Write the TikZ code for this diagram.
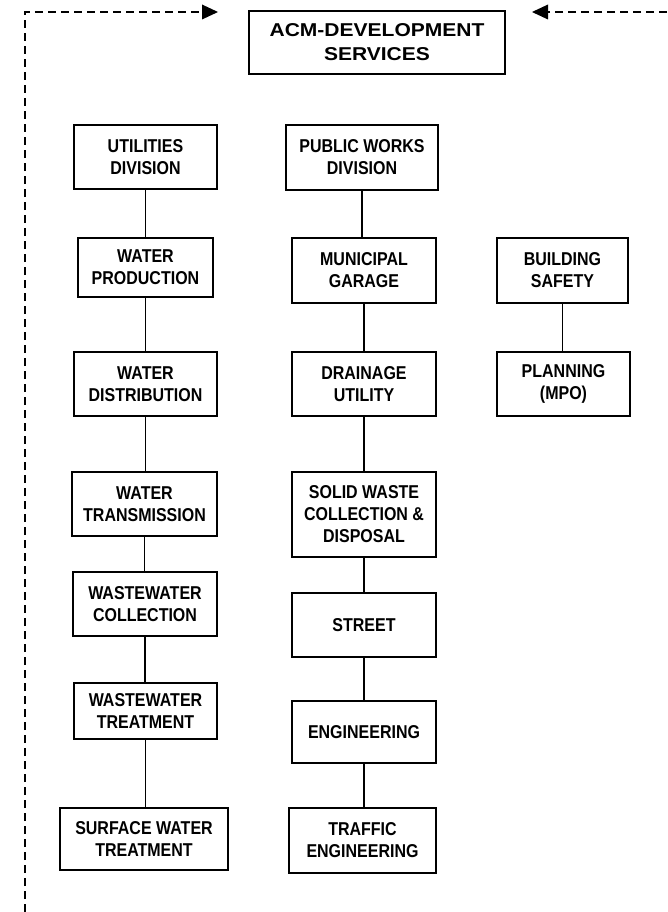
\documentclass[tikz,border=0pt]{standalone}
\usepackage{fontspec}
\setmainfont{Liberation Sans}
\newfontfamily\boxfont{Liberation Sans}[FakeStretch=0.86]
\newfontfamily\headfont{Liberation Sans}[FakeStretch=1.13]
\usetikzlibrary{arrows.meta}
\tikzset{
  orgbox/.style={draw, line width=1.6pt, inner sep=0pt, align=center,
    font=\boxfont\bfseries\fontsize{18.6}{22}\selectfont},
  link/.style={line width=1.3pt},
  feed/.style={line width=2pt, dash pattern=on 8pt off 5pt}
}
\begin{document}
\begin{tikzpicture}[x=1pt,y=-1pt]
\useasboundingbox (0,0) rectangle (667,912);
\node[orgbox, minimum width=256pt, minimum height=63pt,
  font=\headfont\bfseries\fontsize{18.6}{24}\selectfont] (acm) at (377,42.5) {ACM-DEVELOPMENT\\SERVICES};
\node[orgbox, minimum width=143pt, minimum height=64pt] (ud) at (145.5,157) {UTILITIES\\DIVISION};
\node[orgbox, minimum width=135pt, minimum height=59pt] (wp) at (145.5,267.5) {WATER\\PRODUCTION};
\node[orgbox, minimum width=143pt, minimum height=64pt] (wd) at (145.5,384) {WATER\\DISTRIBUTION};
\node[orgbox, minimum width=145pt, minimum height=64pt] (wt) at (144.5,504) {WATER\\TRANSMISSION};
\node[orgbox, minimum width=144pt, minimum height=64pt] (wc) at (145,604) {WASTEWATER\\COLLECTION};
\node[orgbox, minimum width=143pt, minimum height=56pt] (wwt) at (145.5,711) {WASTEWATER\\TREATMENT};
\node[orgbox, minimum width=168pt, minimum height=62pt] (sw) at (144,839) {SURFACE WATER\\TREATMENT};
\node[orgbox, minimum width=152pt, minimum height=65pt] (pw) at (362,157.5) {PUBLIC WORKS\\DIVISION};
\node[orgbox, minimum width=144pt, minimum height=65pt] (mg) at (364,270.5) {MUNICIPAL\\GARAGE};
\node[orgbox, minimum width=144pt, minimum height=64pt] (du) at (364,384) {DRAINAGE\\UTILITY};
\node[orgbox, minimum width=144pt, minimum height=85pt] (sd) at (364,514.5) {SOLID WASTE\\COLLECTION \&\\DISPOSAL};
\node[orgbox, minimum width=144pt, minimum height=64pt] (st) at (364,625) {STREET};
\node[orgbox, minimum width=144pt, minimum height=62pt] (en) at (364,732) {ENGINEERING};
\node[orgbox, minimum width=147pt, minimum height=65pt] (te) at (362.5,840.5) {TRAFFIC\\ENGINEERING};
\node[orgbox, minimum width=131pt, minimum height=65pt] (bs) at (562.5,270.5) {BUILDING\\SAFETY};
\node[orgbox, minimum width=133pt, minimum height=64pt] (pl) at (563.5,384) {PLANNING\\(MPO)};
\foreach \a/\b in {ud/wp,wp/wd,wd/wt,wt/wc,wc/wwt,wwt/sw,pw/mg,mg/du,du/sd,sd/st,st/en,en/te,bs/pl}
  \draw[link] (\a.south) -- (\a.south |- \b.north);
\coordinate (lefttip) at (218,12);
\coordinate (corner) at (25,12);
\coordinate (leftend) at (25,912);
\coordinate (rightend) at (667,12);
\coordinate (righttip) at (532,12);
\draw[feed, -{Triangle[length=16pt,width=15pt,line width=0pt]}] (leftend) -- (corner) -- (lefttip);
\draw[feed, -{Triangle[length=16pt,width=15pt,line width=0pt]}] (rightend) -- (righttip);
\end{tikzpicture}
\end{document}
